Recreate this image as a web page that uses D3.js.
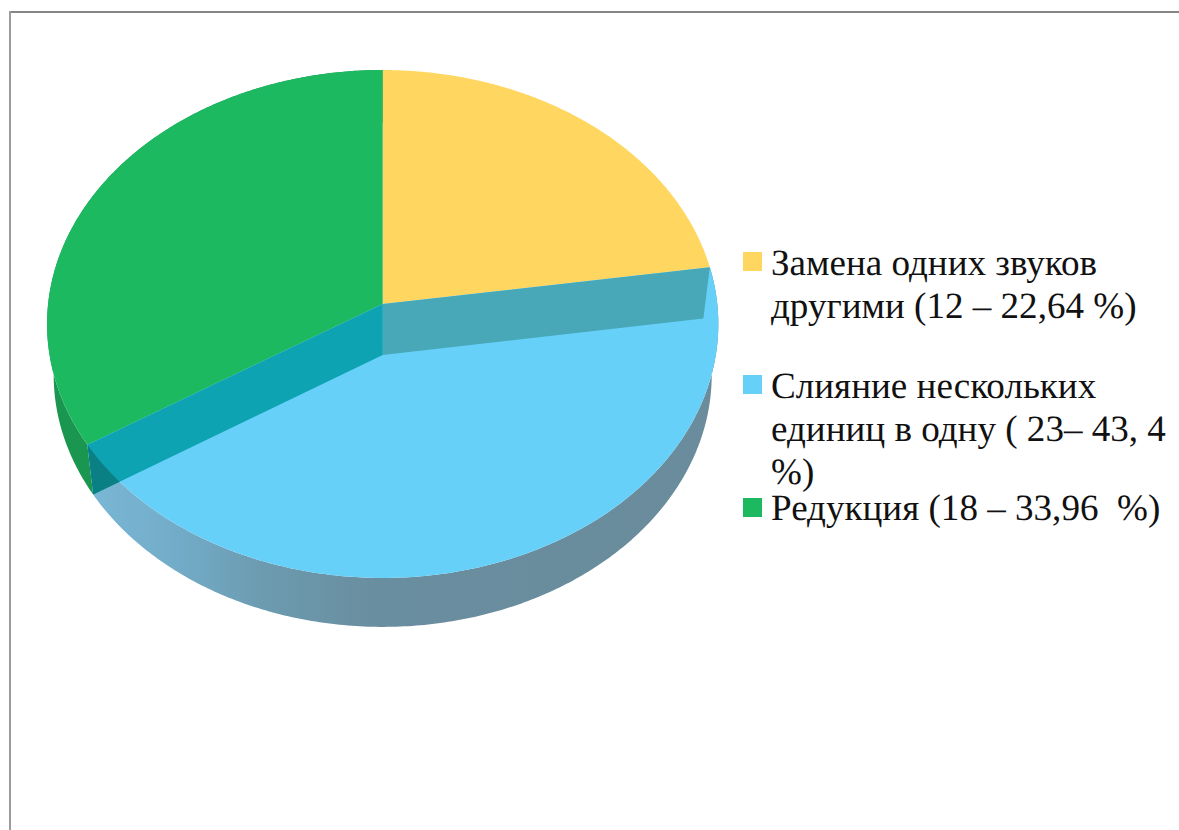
<!DOCTYPE html>
<html lang="ru">
<head>
<meta charset="utf-8">
<script src="https://cdn.jsdelivr.net/npm/d3@7/dist/d3.min.js"></script>
<style>
  html, body { margin: 0; padding: 0; background: #fff; }
  svg { display: block; }
  .legend text { font-family: "Liberation Serif", serif; font-size: 37.1px; fill: #111; text-rendering: geometricPrecision; }
</style>
</head>
<body>
<svg id="chart" width="1179" height="830"></svg>
<script>
// Data: number of cases per category and the legend wording
const categories = ["Замена", "Слияние", "Редукция"];
const counts = [12, 23, 18];
const legendLines = [
  ["Замена одних звуков", "другими (12 – 22,64 %)"],
  ["Слияние нескольких", "единиц в одну ( 23– 43, 4", "%)"],
  ["Редукция (18 – 33,96  %)"]
];
const topColors = ["#FFD65F", "#67D0F9", "#1CB961"];

const svg = d3.select("#chart");
const W = 1179, H = 830;

// Frame: the top and left edges fall inside the canvas, the others run off it
svg.append("line").attr("x1", 9).attr("x2", W).attr("y1", 12).attr("y2", 12)
  .attr("stroke", "#868686").attr("stroke-width", 2);
svg.append("line").attr("x1", 10).attr("x2", 10).attr("y1", 11).attr("y2", H)
  .attr("stroke", "#9c9c9c").attr("stroke-width", 2);

// Perspective projection of the unit disc onto the screen
const persp = 0.0787;
const faces = {
  top:    { cx: 382.7, cy: 304, rx: 334.6, ry: 252.4 },
  bottom: { cx: 382.7, cy: 355, rx: 328, ry: 250.5 }
};
function project(face, angle, radius = 1) {
  const u = radius * Math.sin(angle), v = radius * Math.cos(angle);
  const w = 1 + persp * v;
  return [face.cx + face.rx * u / w, face.cy - face.ry * v / w];
}
function rimPoints(face, a0, a1) {
  return d3.range(0, 1.0001, 1 / 240).map(t => project(face, a0 + (a1 - a0) * t));
}

const line = d3.line();
const slices = d3.pie().sort(null).value(d => d)(counts);
const [yellow, blue, green] = slices;

// Side gradient of the rim, lighter toward the left
const defs = svg.append("defs");
const grad = defs.append("linearGradient").attr("id", "rimBlue")
  .attr("gradientUnits", "userSpaceOnUse")
  .attr("x1", 94).attr("x2", 718).attr("y1", 0).attr("y2", 0);
[[0, "#79b7d5"], [0.14, "#72abc7"], [0.28, "#6c9aaf"], [0.45, "#698e9f"], [1, "#6a8c9c"]]
  .forEach(([o, c]) => grad.append("stop").attr("offset", o).attr("stop-color", c));

// Outer rim between the top and bottom discs
function rimPath(s) {
  const t = rimPoints(faces.top, s.startAngle, s.endAngle);
  const b = rimPoints(faces.bottom, s.startAngle, s.endAngle).reverse();
  return line(t.concat(b)) + "Z";
}
const bluePath = rimPath(blue);
svg.append("path").attr("d", rimPath(green)).attr("fill", "#1B9650");
svg.append("path").attr("d", bluePath).attr("fill", "url(#rimBlue)");

// Top faces of the slices
svg.append("g").selectAll("path").data(slices).join("path")
  .attr("d", s => line([[faces.top.cx, faces.top.cy]].concat(rimPoints(faces.top, s.startAngle, s.endAngle))) + "Z")
  .attr("fill", (s, i) => topColors[i]);

// Inner cut walls, seen through the translucent blue slice
function wallPath(angle) {
  return line([
    [faces.top.cx, faces.top.cy],
    project(faces.top, angle),
    project(faces.bottom, angle),
    [faces.bottom.cx, faces.bottom.cy]
  ]) + "Z";
}
svg.append("path").attr("d", wallPath(blue.startAngle)).attr("fill", "#48A8B8");
svg.append("path").attr("d", wallPath(blue.endAngle)).attr("fill", "#0DA3B2");

// The part of the left wall that also sits behind the outer rim is darker
defs.append("clipPath").attr("id", "rimClip").append("path").attr("d", bluePath);
svg.append("path").attr("d", wallPath(blue.endAngle))
  .attr("fill", "#0A8085").attr("clip-path", "url(#rimClip)");

// Legend
const legendBaselines = [[275, 318], [398, 441, 484], [520]];
const swatchTops = [252, 375, 498];
const legend = svg.append("g").attr("class", "legend");
categories.forEach((name, i) => {
  legend.append("rect")
    .attr("x", 743).attr("y", swatchTops[i])
    .attr("width", 19).attr("height", 19)
    .attr("fill", topColors[i]);
  legendLines[i].forEach((txt, j) => {
    legend.append("text")
      .attr("x", 771).attr("y", legendBaselines[i][j])
      .style("white-space", "pre")
      .text(txt);
  });
});
</script>
</body>
</html>
